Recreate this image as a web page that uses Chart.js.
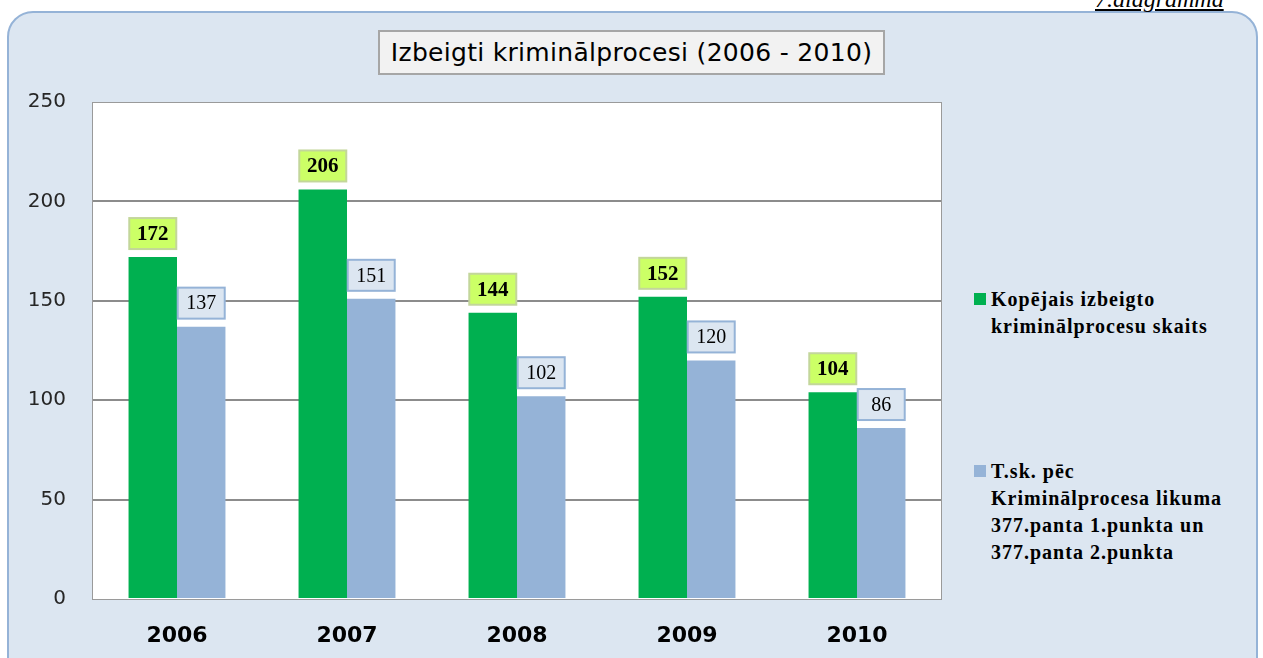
<!DOCTYPE html>
<html>
<head>
<meta charset="utf-8">
<script src="https://cdn.jsdelivr.net/npm/chart.js@4.4.1/dist/chart.umd.min.js"></script>
<style>
    html, body { margin: 0; padding: 0; background: #fff; }
    body { width: 1263px; height: 658px; position: relative; overflow: hidden; }
    .frame {
        position: absolute; left: 7px; top: 11px; width: 1247px; height: 680px;
        background: #dce6f1; border: 2px solid #95b3d7; border-radius: 26px;
    }
    .tag {
        position: absolute; left: 1095px; top: -14px;
        font: italic 24px "Liberation Serif", serif; text-decoration: underline; color: #000;
    }
    .title {
        position: absolute; left: 378px; top: 30px; width: 503px; height: 41px;
        background: #f2f2f2; border: 2px solid #a6a6a6;
        font: 25px "DejaVu Sans", sans-serif; color: #000;
        text-align: center; line-height: 42px; letter-spacing: 0.3px;
    }
    .legend { position: absolute; left: 974px; font: bold 20px "Liberation Serif", serif; color: #000; }
    .legend .item { position: relative; padding-left: 17px; line-height: 27px; letter-spacing: 1px; }
    .legend .sw { position: absolute; left: 0; top: 7px; width: 12px; height: 12px; }
    canvas { position: absolute; left: 0; top: 0; }
</style>
</head>
<body>
<div class="frame"></div>
<div class="tag">7.diagramma</div>
<div class="title">Izbeigti kriminālprocesi (2006 - 2010)</div>
<div class="legend" style="top:286px">
    <div class="item"><span class="sw" style="background:#00b050"></span>Kopējais izbeigto<br>kriminālprocesu skaits</div>
</div>
<div class="legend" style="top:458px">
    <div class="item"><span class="sw" style="background:#95b3d7"></span>T.sk. pēc<br>Kriminālprocesa likuma<br>377.panta 1.punkta un<br>377.panta 2.punkta</div>
</div>
<canvas id="chart" width="1263" height="658"></canvas>

<script>
    const years = ["2006", "2007", "2008", "2009", "2010"];
    const totalClosed = [172, 206, 144, 152, 104];
    const underArt377 = [137, 151, 102, 120, 86];
    const yTicks = [0, 50, 100, 150, 200, 250];

    const seriesNames = [
        "Kopējais izbeigto kriminālprocesu skaits",
        "T.sk. pēc Kriminālprocesa likuma 377.panta 1.punkta un 377.panta 2.punkta"
    ];

    // white plot area + thin border
    const plotBg = {
        id: 'plotBg',
        beforeDraw(chart) {
            const { ctx, chartArea: a } = chart;
            ctx.save();
            ctx.fillStyle = '#ffffff';
            ctx.fillRect(a.left, a.top, a.right - a.left, a.bottom - a.top);
            ctx.restore();
        },
        afterDraw(chart) {
            const { ctx, chartArea: a } = chart;
            ctx.save();
            ctx.strokeStyle = '#9a9a9a';
            ctx.lineWidth = 1;
            ctx.strokeRect(a.left + 0.5, a.top + 0.5, a.right - a.left - 1, a.bottom - a.top);
            ctx.restore();
        }
    };

    // boxed value labels above each bar
    const valueBoxes = {
        id: 'valueBoxes',
        afterDatasetsDraw(chart) {
            const ctx = chart.ctx;
            const styles = [
                { fill: '#ccff66', stroke: '#c3d69b', font: 'bold 21px "Liberation Serif", serif' },
                { fill: '#dce6f1', stroke: '#95b3d7', font: '20px "Liberation Serif", serif' }
            ];
            chart.data.datasets.forEach((ds, di) => {
                const meta = chart.getDatasetMeta(di);
                const st = styles[di];
                meta.data.forEach((bar, i) => {
                    const w = 47, h = 31;
                    const x = bar.x - w / 2;
                    const y = bar.y - 8 - h;
                    ctx.save();
                    ctx.fillStyle = st.fill;
                    ctx.fillRect(x, y, w, h);
                    ctx.strokeStyle = st.stroke;
                    ctx.lineWidth = 2;
                    ctx.strokeRect(x, y, w, h);
                    ctx.fillStyle = '#000';
                    ctx.font = st.font;
                    ctx.textAlign = 'center';
                    ctx.textBaseline = 'middle';
                    ctx.fillText(String(ds.data[i]), bar.x, y + h / 2 + 1);
                    ctx.restore();
                });
            });
        }
    };

    new Chart(document.getElementById('chart'), {
        type: 'bar',
        data: {
            labels: years,
            datasets: [
                { label: seriesNames[0], data: totalClosed, backgroundColor: '#00b050' },
                { label: seriesNames[1], data: underArt377, backgroundColor: '#95b3d7' }
            ]
        },
        options: {
            responsive: false,
            animation: false,
            layout: { padding: { left: 10, right: 321, top: 102, bottom: 0 } },
            datasets: { bar: { categoryPercentage: 0.57, barPercentage: 1 } },
            plugins: { legend: { display: false }, title: { display: false }, tooltip: { enabled: false } },
            scales: {
                x: {
                    grid: { display: false, drawTicks: false },
                    border: { display: false },
                    ticks: { color: '#000', font: { family: 'DejaVu Sans', size: 22, weight: 'bold' }, padding: 24 },
                    afterFit(scale) { scale.height = 59; }
                },
                y: {
                    min: 0,
                    max: 250,
                    afterBuildTicks(scale) { scale.ticks = yTicks.map(v => ({ value: v })); },
                    grid: {
                        drawTicks: false,
                        lineWidth: 2,
                        color: c => (c.tick && (c.tick.value === 0 || c.tick.value === 250)) ? 'rgba(0,0,0,0)' : '#8c8c8c'
                    },
                    border: { display: false },
                    ticks: { color: '#262626', font: { family: 'DejaVu Sans', size: 20 }, padding: 26 },
                    afterFit(scale) { scale.width = 82; }
                }
            }
        },
        plugins: [plotBg, valueBoxes]
    });
</script>
</body>
</html>
